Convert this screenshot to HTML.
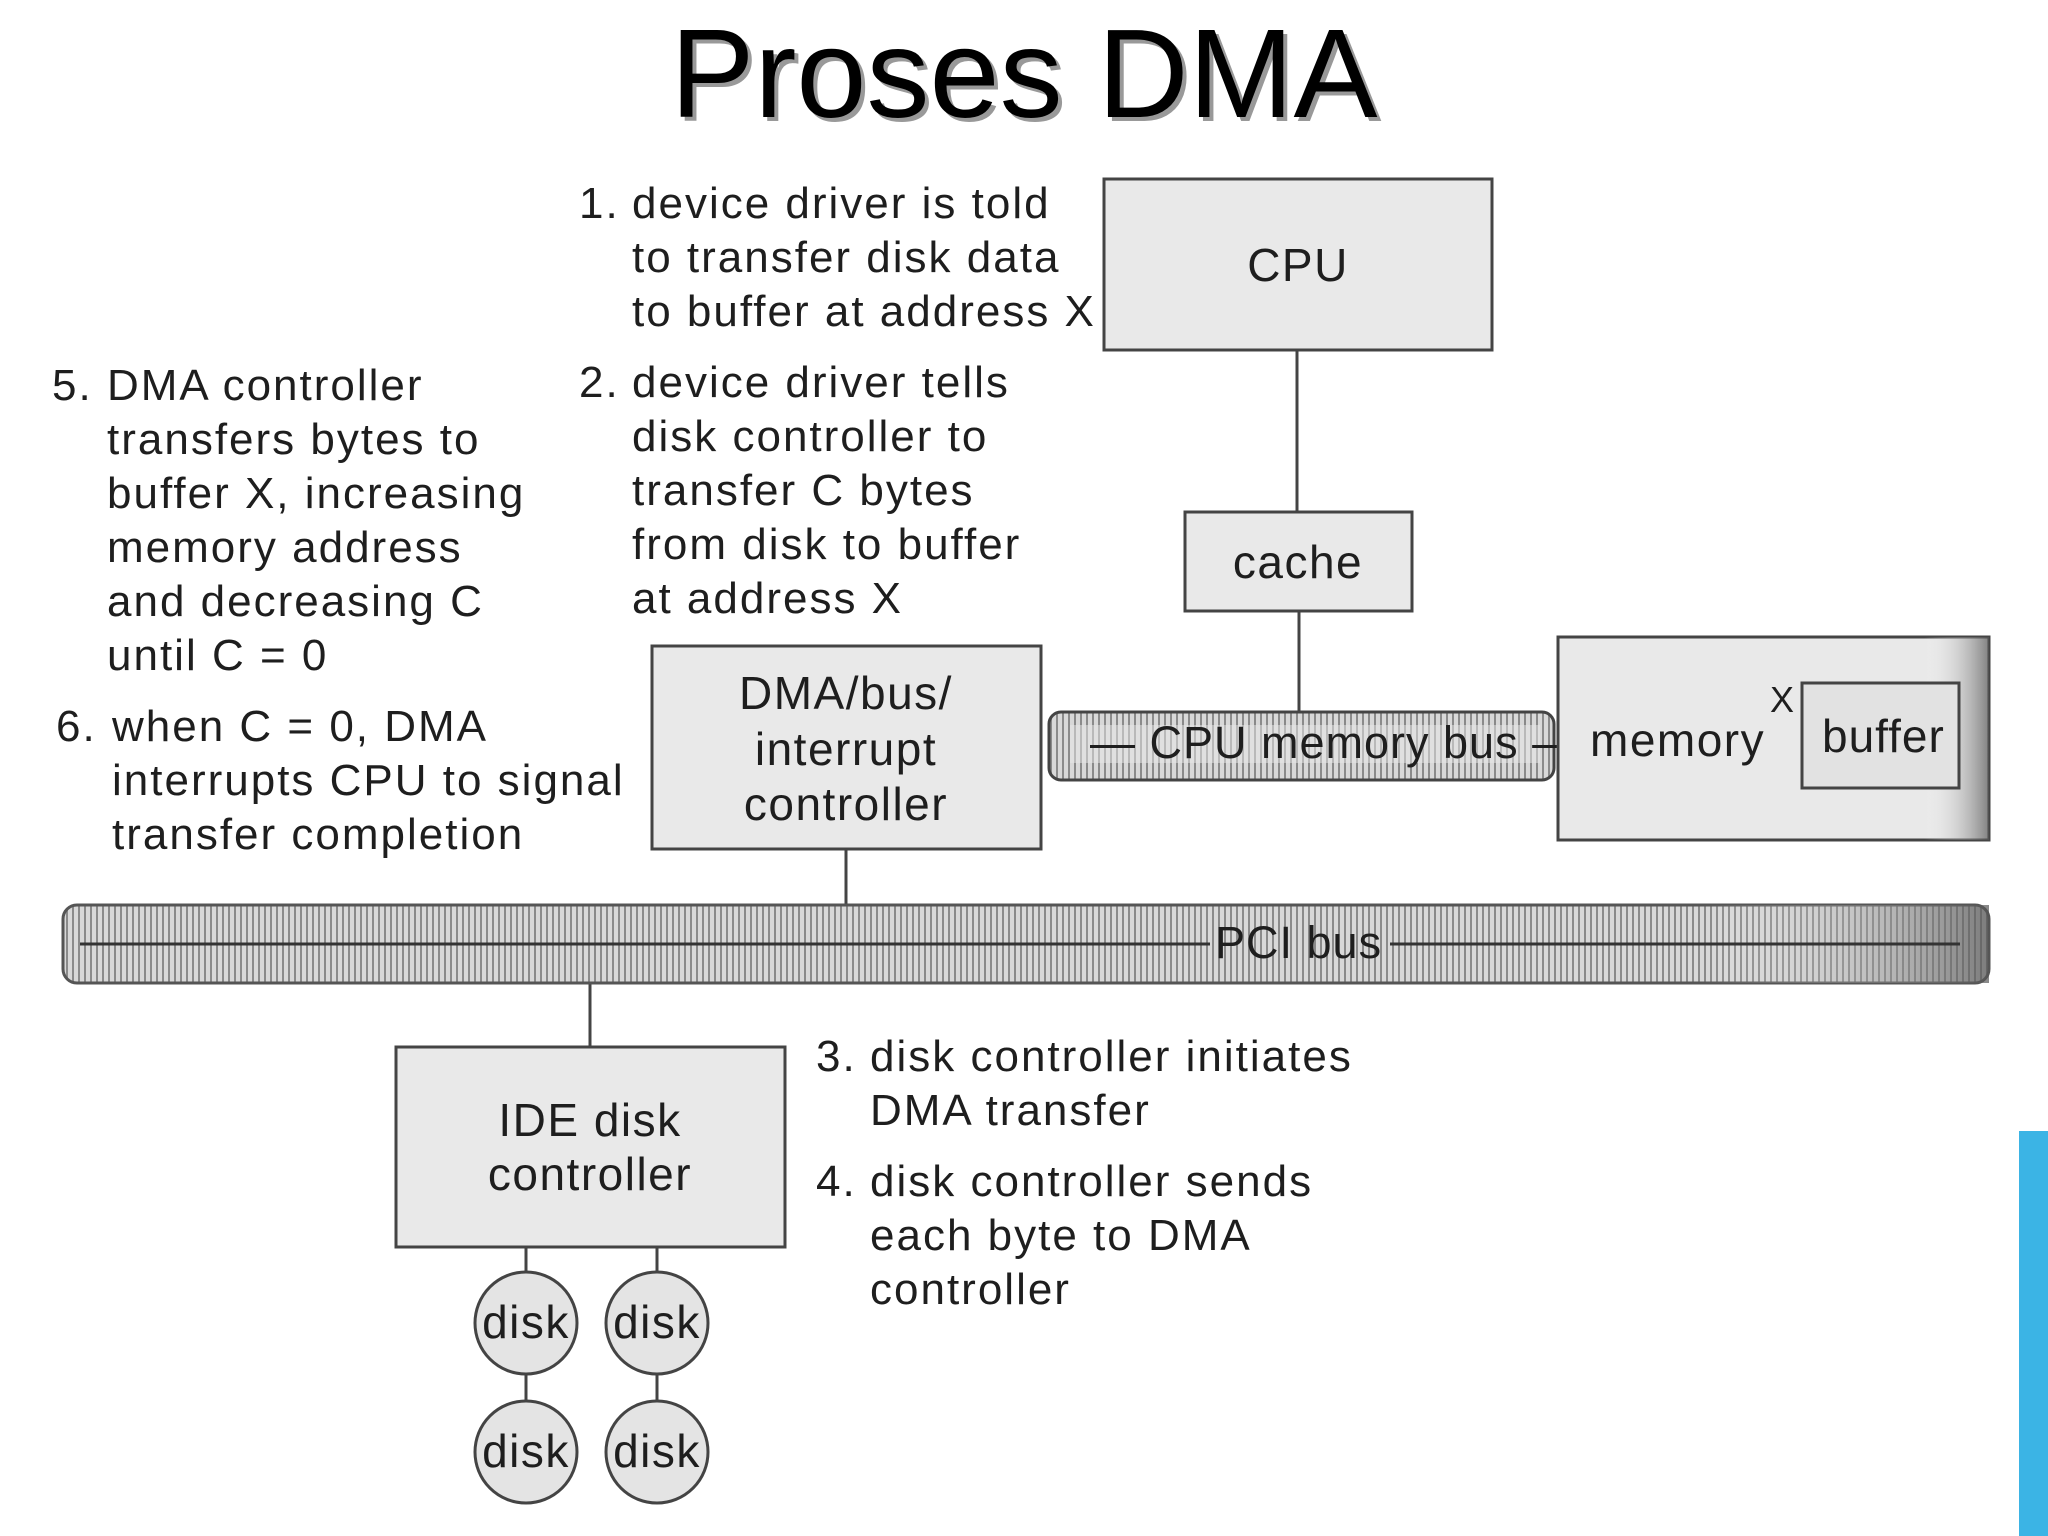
<!DOCTYPE html>
<html><head><meta charset="utf-8"><style>
html,body{margin:0;padding:0;background:#fff;}
svg{display:block;}
text{font-family:"Liberation Sans",Arial,sans-serif;fill:#1e1e1e;}
</style></head><body>
<svg width="2048" height="1536" viewBox="0 0 2048 1536" xmlns="http://www.w3.org/2000/svg">
<defs>
<pattern id="hatch" width="6" height="10" patternUnits="userSpaceOnUse">
<rect width="6" height="10" fill="#d8d8d8"/><rect width="2" height="10" fill="#8a8a8a"/>
</pattern>
<linearGradient id="shade" x1="0" x2="1" y1="0" y2="0">
<stop offset="0" stop-color="#fff" stop-opacity="0"/><stop offset="0.85" stop-color="#fff" stop-opacity="0"/><stop offset="1" stop-color="#555" stop-opacity="0.7"/>
</linearGradient>
</defs>
<text x="1028" y="121" font-size="126" text-anchor="middle" style="fill:#999">Proses DMA</text>
<text x="1024" y="117" font-size="126" text-anchor="middle" style="fill:#000">Proses DMA</text>

<g stroke="#444" stroke-width="3" fill="none">
<line x1="1297" y1="350" x2="1297" y2="512"/>
<line x1="1299" y1="611" x2="1299" y2="712"/>
<line x1="846" y1="849" x2="846" y2="945"/>
<line x1="590" y1="953" x2="590" y2="1047"/>
<line x1="526" y1="1247" x2="526" y2="1272"/>
<line x1="657" y1="1247" x2="657" y2="1272"/>
<line x1="526" y1="1374" x2="526" y2="1400"/>
<line x1="657" y1="1374" x2="657" y2="1400"/>
</g>

<rect x="1049" y="712" width="505" height="68" rx="12" fill="url(#hatch)" stroke="#444" stroke-width="3"/>
<rect x="1070" y="725" width="470" height="38" fill="#e8e8e8" opacity="0.5"/>
<text x="1090" y="758" font-size="45" letter-spacing="1">— CPU memory bus —</text>

<rect x="63" y="905" width="1926" height="78" rx="14" fill="url(#hatch)" stroke="#555" stroke-width="3"/>
<rect x="63" y="905" width="1926" height="78" fill="url(#shade)"/>
<line x1="80" y1="944" x2="1210" y2="944" stroke="#333" stroke-width="3"/>
<line x1="1390" y1="944" x2="1960" y2="944" stroke="#333" stroke-width="3"/>
<text x="1215" y="958" font-size="45" letter-spacing="1">PCI bus</text>

<g fill="#e9e9e9" stroke="#444" stroke-width="3">
<rect x="1104" y="179" width="388" height="171"/>
<rect x="1185" y="512" width="227" height="99"/>
<rect x="652" y="646" width="389" height="203"/>
<rect x="1558" y="637" width="431" height="203"/>
<rect x="396" y="1047" width="389" height="200"/>
</g>
<rect x="1558" y="637" width="431" height="203" fill="url(#shade)"/>
<rect x="1802" y="683" width="157" height="105" fill="#e2e2e2" stroke="#444" stroke-width="3"/>

<g fill="#e4e4e4" stroke="#444" stroke-width="3">
<circle cx="526" cy="1323" r="51"/><circle cx="657" cy="1323" r="51"/>
<circle cx="526" cy="1452" r="51"/><circle cx="657" cy="1452" r="51"/>
</g>

<g font-size="46" text-anchor="middle" letter-spacing="1.5">
<text x="1298" y="281">CPU</text>
<text x="1298" y="578">cache</text>
<text x="846" y="709">DMA/bus/</text>
<text x="846" y="765">interrupt</text>
<text x="846" y="820">controller</text>
<text x="590" y="1136">IDE disk</text>
<text x="590" y="1190">controller</text>
<text x="526" y="1338">disk</text><text x="657" y="1338">disk</text>
<text x="526" y="1467">disk</text><text x="657" y="1467">disk</text>
</g>
<text x="1590" y="756" font-size="46" letter-spacing="1.5">memory</text>
<text x="1822" y="752" font-size="46" letter-spacing="1">buffer</text>
<text x="1770" y="712" font-size="36">X</text>

<g font-size="44" letter-spacing="2">
<text x="579" y="218">1.</text>
<text x="632" y="218">device driver is told</text>
<text x="632" y="272">to transfer disk data</text>
<text x="632" y="326">to buffer at address X</text>
<text x="579" y="397">2.</text>
<text x="632" y="397">device driver tells</text>
<text x="632" y="451">disk controller to</text>
<text x="632" y="505">transfer C bytes</text>
<text x="632" y="559">from disk to buffer</text>
<text x="632" y="613">at address X</text>
<text x="52" y="400">5.</text>
<text x="107" y="400">DMA controller</text>
<text x="107" y="454">transfers bytes to</text>
<text x="107" y="508">buffer X, increasing</text>
<text x="107" y="562">memory address</text>
<text x="107" y="616">and decreasing C</text>
<text x="107" y="670">until C = 0</text>
<text x="56" y="741">6.</text>
<text x="112" y="741">when C = 0, DMA</text>
<text x="112" y="795">interrupts CPU to signal</text>
<text x="112" y="849">transfer completion</text>
<text x="816" y="1071">3.</text>
<text x="870" y="1071">disk controller initiates</text>
<text x="870" y="1125">DMA transfer</text>
<text x="816" y="1196">4.</text>
<text x="870" y="1196">disk controller sends</text>
<text x="870" y="1250">each byte to DMA</text>
<text x="870" y="1304">controller</text>
</g>

<rect x="2019" y="1131" width="29" height="405" fill="#3bb4e5"/>
</svg>
</body></html>
